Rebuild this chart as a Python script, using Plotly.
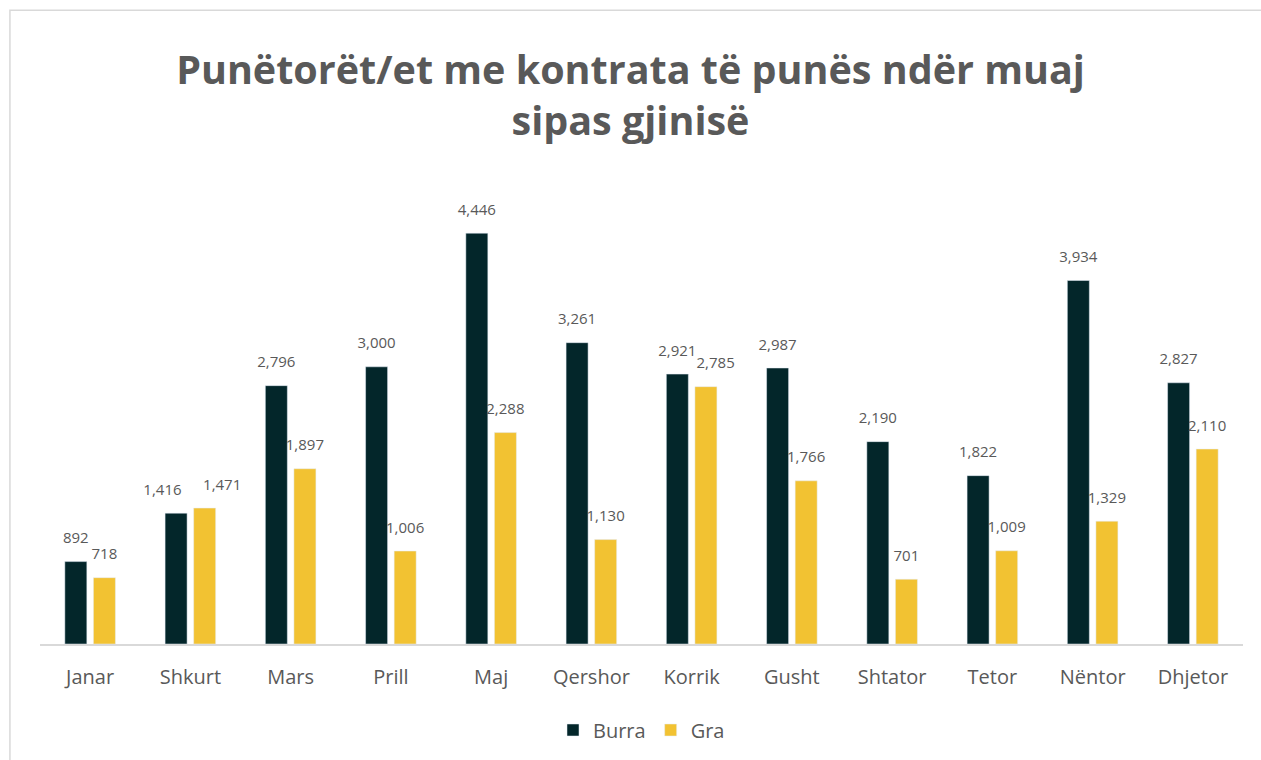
import plotly.graph_objects as go

months = ["Janar", "Shkurt", "Mars", "Prill", "Maj", "Qershor", "Korrik",
          "Gusht", "Shtator", "Tetor", "Nëntor", "Dhjetor"]
burra = [892, 1416, 2796, 3000, 4446, 3261, 2921, 2987, 2190, 1822, 3934, 2827]
gra = [718, 1471, 1897, 1006, 2288, 1130, 2785, 1766, 701, 1009, 1329, 2110]

# sideways nudge of a label (in non-breaking spaces; negative = left), as in the original
burra_nudge = [0, -7, 0, 0, 0, 0, 0, 0, 0, 0, 0, 0]
gra_nudge = [0, 9, 0, 0, 0, 0, 5, 0, 0, 0, 0, 0]

DARK = "#03262a"
YELLOW = "#f2c232"
GREY = "#595959"
FONT = "Open Sans"
BARGAP = 0.43
NB = "\u00a0"


def label(v, n):
    s = f"{v:,}"
    return NB * n + s if n > 0 else s + NB * (-n)


fig = go.Figure()
for name, vals, col in [("Burra", burra, DARK), ("Gra", gra, YELLOW)]:
    fig.add_trace(go.Bar(name=name, x=months, y=vals, marker_color=col,
                         offsetgroup=name, alignmentgroup="a"))
for name, vals, nudge in [("Burra", burra, burra_nudge), ("Gra", gra, gra_nudge)]:
    fig.add_trace(go.Scatter(x=months, y=vals, mode="markers+text",
                             text=[label(v, n) for v, n in zip(vals, nudge)],
                             textposition="top center",
                             textfont=dict(size=15, color=GREY, family=FONT),
                             marker=dict(size=22, opacity=0),
                             offsetgroup=name, alignmentgroup="a",
                             showlegend=False, hoverinfo="skip", cliponaxis=False))

fig.update_layout(
    width=1261, height=760,
    paper_bgcolor="white", plot_bgcolor="white",
    barmode="group", bargap=BARGAP, bargroupgap=0.23,
    scattermode="group", scattergap=BARGAP,
    margin=dict(l=40, r=18, t=182, b=115),
    font=dict(family=FONT, color=GREY),
    title=dict(text="<b>Punëtorët/et me kontrata të punës ndër muaj<br>sipas gjinisë</b>",
               x=0.5, xanchor="center", yref="container", y=0.89, yanchor="middle",
               font=dict(size=39.5, color=GREY, family=FONT)),
    xaxis=dict(showline=True, linecolor="#d9d9d9", linewidth=1.5,
               tickfont=dict(size=20, color=GREY), ticks="", showgrid=False,
               ticklabelstandoff=14),
    yaxis=dict(range=[0, 5000], visible=False, showgrid=False),
    legend=dict(orientation="h", x=0.5, xanchor="center", y=-85 / 463, yanchor="middle",
                font=dict(size=20, color=GREY), traceorder="normal"),
    showlegend=True,
)
fig.add_shape(type="rect", xref="paper", yref="paper",
              x0=-0.025, y0=-0.5, x1=1.1, y1=(645 - 10) / 463,
              line=dict(color="#d9d9d9", width=1.5), fillcolor="rgba(0,0,0,0)",
              layer="below")
fig.write_html("out.html", config={"displayModeBar": False},
               post_script="document.body.style.margin='0';")
